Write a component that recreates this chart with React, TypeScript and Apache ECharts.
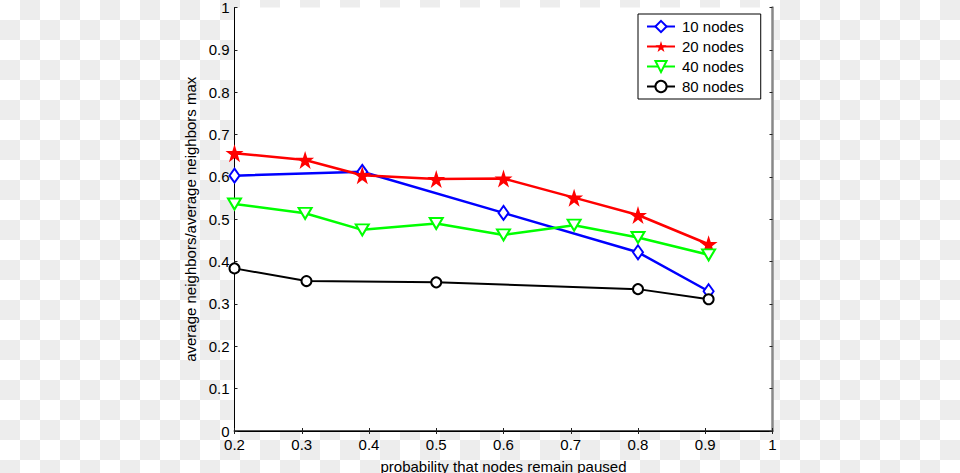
import React, { useEffect, useRef } from "react";
import * as echarts from "echarts";

// ---- data ----
const seriesNames = ["10 nodes", "20 nodes", "40 nodes", "80 nodes"];

const x10 = [0.2, 0.39, 0.6, 0.8, 0.905];
const y10 = [0.603, 0.612, 0.515, 0.422, 0.330];

const x20 = [0.2, 0.305, 0.39, 0.5, 0.6, 0.705, 0.8, 0.905];
const y20 = [0.656, 0.640, 0.604, 0.595, 0.596, 0.551, 0.510, 0.441];

const x40 = [0.2, 0.305, 0.39, 0.5, 0.6, 0.705, 0.8, 0.905];
const y40 = [0.536, 0.514, 0.475, 0.490, 0.463, 0.486, 0.457, 0.416];

const x80 = [0.2, 0.307, 0.5, 0.8, 0.905];
const y80 = [0.384, 0.354, 0.351, 0.335, 0.311];

const xTickLabels = ["0.2", "0.3", "0.4", "0.5", "0.6", "0.7", "0.8", "0.9", "1"];
const yTickLabels = ["0", "0.1", "0.2", "0.3", "0.4", "0.5", "0.6", "0.7", "0.8", "0.9", "1"];

const xTitle = "probability that nodes remain paused";
const yTitle = "average neighbors/average neighbors max";

const STAR =
  "path://M50,0 L61.2,34.5 L97.6,34.5 L68.2,55.9 L79.4,90.5 L50,69.1 L20.6,90.5 L31.8,55.9 L2.4,34.5 L38.8,34.5 Z";

const FONT = "'Liberation Sans', Arial, Helvetica, sans-serif";

function pairs(xs: number[], ys: number[]) {
  return xs.map((x, i) => [x, ys[i]]);
}

export default function App() {
  const ref = useRef<HTMLDivElement>(null);

  useEffect(() => {
    if (!ref.current) return;
    const chart = echarts.init(ref.current, undefined, { renderer: "svg" });

    const xLabel = (v: number) => {
      const i = Math.round((v - 0.2) / 0.1);
      return xTickLabels[i] ?? "";
    };
    const yLabel = (v: number) => {
      const i = Math.round(v / 0.1);
      return yTickLabels[i] ?? "";
    };

    const baseX = {
      type: "value" as const,
      min: 0.2,
      max: 1,
      interval: 0.1,
      splitLine: { show: false },
    };
    const baseY = {
      type: "value" as const,
      min: 0,
      max: 1,
      interval: 0.1,
      splitLine: { show: false },
    };

    chart.setOption({
      animation: false,
      backgroundColor: "transparent",
      textStyle: { fontFamily: FONT },
      grid: {
        left: 234.5,
        right: 187.5,
        top: 7.5,
        bottom: 42,
        containLabel: false,
        outerBoundsMode: "none",
        show: true,
        backgroundColor: "#ffffff",
        borderWidth: 0,
      },
      legend: {
        orient: "vertical",
        left: 638,
        top: 14,
        padding: [5, 17, 5, 8],
        itemWidth: 28,
        itemHeight: 14,
        itemGap: 5,
        backgroundColor: "#ffffff",
        borderColor: "#000000",
        borderWidth: 1,
        borderRadius: 0,
        textStyle: { fontSize: 15, color: "#000", fontFamily: FONT, padding: [0, 0, 0, 2] },
        data: seriesNames,
      },
      xAxis: [
        {
          ...baseX,
          position: "bottom",
          name: xTitle,
          nameLocation: "middle",
          nameGap: 28,
          nameTextStyle: { fontSize: 15, color: "#000", fontFamily: FONT },
          axisLine: { show: true, lineStyle: { color: "#555555", width: 2 } },
          axisTick: { show: true, inside: true, length: 3, lineStyle: { color: "#222" } },
          axisLabel: { show: true, fontSize: 15, color: "#000", margin: 6, formatter: xLabel, fontFamily: FONT },
        },
        {
          ...baseX,
          position: "top",
          axisLine: { show: true, lineStyle: { color: "#000", width: 1 } },
          axisTick: { show: true, inside: true, length: 3, lineStyle: { color: "#222" } },
          axisLabel: { show: false },
        },
      ],
      yAxis: [
        {
          ...baseY,
          position: "left",
          name: yTitle,
          nameLocation: "middle",
          nameGap: 33,
          nameRotate: 90,
          nameTextStyle: { fontSize: 15, color: "#000", fontFamily: FONT },
          axisLine: { show: true, lineStyle: { color: "#000", width: 1 } },
          axisTick: { show: true, inside: true, length: 3, lineStyle: { color: "#222" } },
          axisLabel: { show: true, fontSize: 15, color: "#000", margin: 5, formatter: yLabel, fontFamily: FONT },
        },
        {
          ...baseY,
          position: "right",
          axisLine: { show: true, lineStyle: { color: "#888888", width: 2.5 } },
          axisTick: { show: true, inside: true, length: 3, lineStyle: { color: "#222" } },
          axisLabel: { show: false },
        },
      ],
      series: [
        {
          name: seriesNames[0],
          type: "line",
          data: pairs(x10, y10),
          color: "#0000ff",
          symbol: "emptyDiamond",
          symbolSize: [10, 14],
          lineStyle: { width: 2.5, color: "#0000ff" },
          itemStyle: { color: "#0000ff" },
        },
        {
          name: seriesNames[1],
          type: "line",
          data: pairs(x20, y20),
          color: "#ff0000",
          symbol: STAR,
          symbolSize: 18,
          lineStyle: { width: 2.5, color: "#ff0000" },
          itemStyle: { color: "#ff0000" },
        },
        {
          name: seriesNames[2],
          type: "line",
          data: pairs(x40, y40),
          color: "#00ff00",
          symbol: "emptyTriangle",
          symbolRotate: 180,
          symbolSize: [13, 11],
          lineStyle: { width: 2.5, color: "#00ff00" },
          itemStyle: { color: "#00ff00" },
        },
        {
          name: seriesNames[3],
          type: "line",
          data: pairs(x80, y80),
          color: "#000000",
          symbol: "emptyCircle",
          symbolSize: 10,
          lineStyle: { width: 2, color: "#000000" },
          itemStyle: { color: "#000000" },
        },
      ],
    });

    return () => chart.dispose();
  }, []);

  return (
    <div
      style={{
        position: "fixed",
        left: 0,
        top: 0,
        width: 960,
        height: 473,
        backgroundColor: "#ffffff",
        backgroundImage:
          "conic-gradient(#ededed 25%, #ffffff 0 50%, #ededed 0 75%, #ffffff 0)",
        backgroundSize: "40px 40px",
      }}
    >
      <div ref={ref} style={{ width: 960, height: 473 }} />
    </div>
  );
}
